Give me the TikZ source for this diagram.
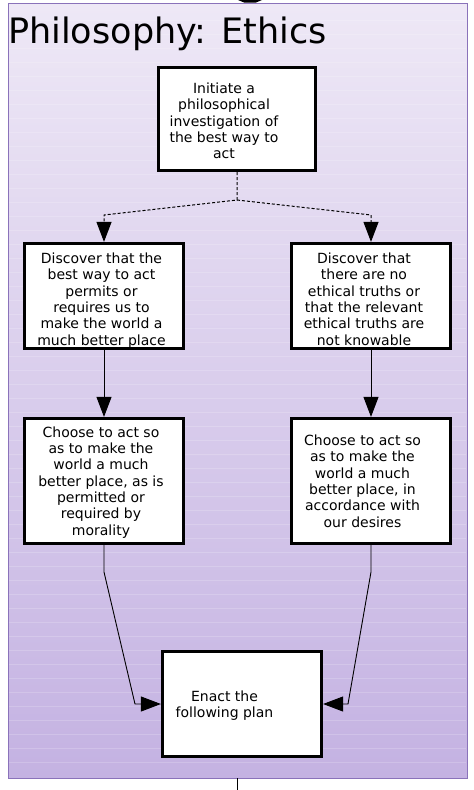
\documentclass[tikz,border=0pt]{standalone}
\usepackage{fontspec}
\setmainfont{DejaVu Sans}
\usetikzlibrary{arrows.meta}
\definecolor{bgtop}{HTML}{EEE8F6}
\definecolor{bgbot}{HTML}{C4B2E2}
\definecolor{framec}{HTML}{8A72BA}
\newcommand\boxlines[3]{\raisebox{-#2}[\height][\depth]{\begin{tabular}{@{}c@{}}#3\end{tabular}}\hspace*{#1}}
\tikzset{
  flowbox/.style={draw=black, fill=white, line width=3.2pt, inner sep=0pt,
    font=\fontsize{14pt}{16.3pt}\selectfont},
  conn/.style={draw=black, line width=0.9pt, -{Triangle[length=20pt,width=15pt]}},
  dotconn/.style={conn, line width=1pt, dash pattern=on 3pt off 2pt}
}
\begin{document}
\begin{tikzpicture}[x=1pt,y=-1pt]
\useasboundingbox (0,0) rectangle (474,790);
% frame
\shade[top color=bgtop, bottom color=bgbot] (8,3) rectangle (467,778);
\foreach \yy in {20,34,...,770} {\draw[white, opacity=0.18, line width=0.6pt] (9,\yy) -- (466,\yy);}
\draw[framec, line width=1pt] (8,3) rectangle (467,778);
% stray connectors leaving the frame
\fill[black] (238,0) -- (262,0) -- (256,2.5) -- (244,2.5) -- cycle;
\coordinate (outtop) at (237,778);
\coordinate (outbot) at (237,790);
\draw[black, line width=0.9pt] (outtop) -- (outbot);
% title
\node[anchor=base west, inner sep=0pt, font=\fontsize{35pt}{40pt}\selectfont] (title) at (8,43) {Philosophy: Ethics};
% boxes
\node[flowbox, minimum width=157pt, minimum height=103pt] (init) at (237,119)
  {\boxlines{26pt}{4pt}{Initiate a\\philosophical\\investigation of\\the best way to\\act}};
\node[flowbox, minimum width=159pt, minimum height=105pt] (d1) at (104,296)
  {\boxlines{5pt}{5pt}{Discover that the\\best way to act\\permits or\\requires us to\\make the world a\\much better place}};
\node[flowbox, minimum width=159pt, minimum height=105pt] (d2) at (371,296)
  {\boxlines{14pt}{5pt}{Discover that\\there are no\\ethical truths or\\that the relevant\\ethical truths are\\not knowable}};
\node[flowbox, minimum width=159pt, minimum height=125pt] (c1) at (104,481)
  {\boxlines{6pt}{2pt}{Choose to act so\\as to make the\\world a much\\better place, as is\\permitted or\\required by\\morality}};
\node[flowbox, minimum width=159pt, minimum height=125pt] (c2) at (371,481)
  {\boxlines{17pt}{2pt}{Choose to act so\\as to make the\\world a much\\better place, in\\accordance with\\our desires}};
\node[flowbox, minimum width=159pt, minimum height=105pt] (enact) at (242,704)
  {\boxlines{35pt}{2.5pt}{Enact the\\following plan}};
% connectors
\coordinate (split) at (237,200);
\draw[dotconn] (init.south) -- (split) -- (104,215) -- (d1.north);
\draw[dotconn] (split) -- (371,215) -- (d2.north);
\draw[conn] (d1.south) -- (c1.north);
\draw[conn] (d2.south) -- (c2.north);
\draw[conn] (c1.south) -- (104,572) -- (135,704) -- (enact.west);
\draw[conn] (c2.south) -- (371,572) -- (348,704) -- (enact.east);
\end{tikzpicture}
\end{document}
